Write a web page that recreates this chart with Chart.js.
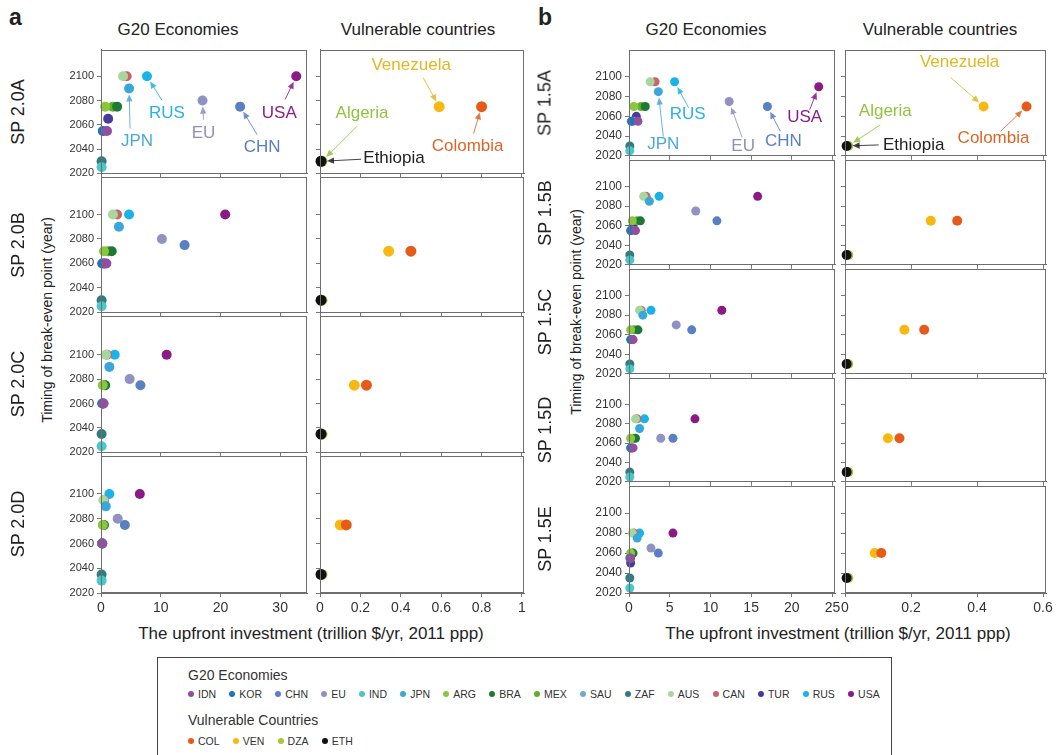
<!DOCTYPE html>
<html>
<head>
<meta charset="utf-8">
<script src="https://cdn.jsdelivr.net/npm/chart.js@4.4.1/dist/chart.umd.min.js"></script>
<style>
  html, body { margin: 0; padding: 0; background: #fff; }
  body { position: relative; width: 1056px; height: 755px; overflow: hidden;
         font-family: "Liberation Sans", Arial, sans-serif; color: #222; }
  canvas.cell { position: absolute; }
  .txt { position: absolute; white-space: nowrap; }
  .rot { transform: translate(-50%, -50%) rotate(-90deg); }
  .ctr { transform: translate(-50%, -50%); }
  #legend { position: absolute; left: 157px; top: 657px; width: 735px; height: 110px;
            border: 1px solid #444; box-sizing: border-box; }
  .lg-title { position: absolute; left: 30px; font-size: 14px; color: #333; }
  .lg-row { position: absolute; left: 30px; display: flex; gap: 13.2px; font-size: 10.5px; color: #333; }
  .lg-item { display: flex; align-items: center; gap: 4px; }
  .lg-dot { width: 6px; height: 6px; border-radius: 50%; display: inline-block; }
</style>
</head>
<body>

<div class="txt" style="left:9px;top:4px;font-size:23px;font-weight:bold;">a</div>
<div class="txt" style="left:538px;top:4px;font-size:23px;font-weight:bold;">b</div>

<div class="txt ctr" style="left:178px;top:30px;font-size:17px;">G20 Economies</div>
<div class="txt ctr" style="left:418px;top:30px;font-size:17px;">Vulnerable countries</div>
<div class="txt ctr" style="left:706px;top:30px;font-size:17px;">G20 Economies</div>
<div class="txt ctr" style="left:940px;top:30px;font-size:17px;">Vulnerable countries</div>

<div class="txt rot" style="left:47px;top:320px;font-size:14px;">Timing of break-even point (year)</div>
<div class="txt rot" style="left:576px;top:312px;font-size:14px;">Timing of break-even point (year)</div>

<div class="txt ctr" style="left:311px;top:634px;font-size:17px;">The upfront investment (trillion $/yr, 2011 ppp)</div>
<div class="txt ctr" style="left:838px;top:634px;font-size:17px;">The upfront investment (trillion $/yr, 2011 ppp)</div>

<div id="legend">
  <div class="lg-title" style="top:9px;">G20 Economies</div>
  <div class="lg-row" id="lgG20" style="top:30px;"></div>
  <div class="lg-title" style="top:54px;">Vulnerable Countries</div>
  <div class="lg-row" id="lgVuln" style="top:77px;"></div>
</div>

<script>
// ---------- categories ----------
const g20Codes  = ['IDN','KOR','CHN','EU','IND','JPN','ARG','BRA','MEX','SAU','ZAF','AUS','CAN','TUR','RUS','USA'];
const vulnCodes = ['COL','VEN','DZA','ETH'];
const scenariosA = ['SP 2.0A','SP 2.0B','SP 2.0C','SP 2.0D'];
const scenariosB = ['SP 1.5A','SP 1.5B','SP 1.5C','SP 1.5D','SP 1.5E'];

// ---------- tick labels ----------
const yearTicks    = [2020, 2040, 2060, 2080, 2100];
const g20TicksA    = [0, 10, 20, 30];
const vulnTicksA   = [0, 0.2, 0.4, 0.6, 0.8, 1];
const g20TicksB    = [0, 5, 10, 15, 20, 25];
const vulnTicksB   = [0, 0.2, 0.4, 0.6];

// ---------- G20 upfront investment (trillion $/yr) and break-even year, order = g20Codes ----------
const inv_20A = [1.0, 0.3, 23.3, 17.0, 0.1, 4.7, 0.7, 2.7, 2.0, 0.5, 0.1, 3.7, 4.3, 1.2, 7.7, 32.7];
const yr_20A  = [2055, 2055, 2075, 2080, 2025, 2090, 2075, 2075, 2075, 2055, 2030, 2100, 2100, 2065, 2100, 2100];
const inv_20B = [0.9, 0.2, 14.0, 10.2, 0.1, 3.0, 0.5, 1.8, 1.2, 0.5, 0.1, 2.0, 2.7, 0.6, 4.7, 20.8];
const yr_20B  = [2060, 2060, 2075, 2080, 2025, 2090, 2070, 2070, 2070, 2060, 2030, 2100, 2100, 2060, 2100, 2100];
const inv_20C = [0.4, 0.2, 6.6, 4.8, 0.1, 1.4, 0.3, 0.7, 0.6, 0.3, 0.1, 0.8, 1.0, 0.4, 2.3, 11.0];
const yr_20C  = [2060, 2060, 2075, 2080, 2025, 2090, 2075, 2075, 2075, 2060, 2035, 2100, 2100, 2060, 2100, 2100];
const inv_20D = [0.2, 0.2, 4.0, 2.8, 0.1, 0.8, 0.3, 0.5, 0.4, 0.2, 0.1, 0.4, 0.5, 0.2, 1.4, 6.5];
const yr_20D  = [2060, 2060, 2075, 2080, 2030, 2090, 2075, 2075, 2075, 2060, 2035, 2095, 2095, 2060, 2100, 2100];

const inv_15A = [1.1, 0.3, 17.0, 12.3, 0.1, 3.6, 0.6, 2.0, 1.5, 0.5, 0.1, 2.6, 3.2, 0.9, 5.6, 23.3];
const yr_15A  = [2055, 2055, 2070, 2075, 2025, 2085, 2070, 2070, 2070, 2055, 2030, 2095, 2095, 2060, 2095, 2090];
const inv_15B = [0.8, 0.2, 10.8, 8.2, 0.1, 2.5, 0.4, 1.4, 1.0, 0.4, 0.1, 1.8, 2.1, 0.5, 3.7, 15.8];
const yr_15B  = [2055, 2055, 2065, 2075, 2025, 2085, 2065, 2065, 2065, 2055, 2030, 2090, 2090, 2060, 2090, 2090];
const inv_15C = [0.5, 0.2, 7.7, 5.8, 0.1, 1.7, 0.2, 1.1, 0.6, 0.3, 0.1, 1.3, 1.5, 0.4, 2.7, 11.4];
const yr_15C  = [2055, 2055, 2065, 2070, 2025, 2080, 2065, 2065, 2065, 2055, 2030, 2085, 2085, 2055, 2085, 2085];
const inv_15D = [0.5, 0.2, 5.4, 3.9, 0.1, 1.3, 0.2, 0.8, 0.5, 0.3, 0.1, 0.8, 1.0, 0.3, 1.9, 8.1];
const yr_15D  = [2055, 2055, 2065, 2065, 2025, 2075, 2065, 2065, 2065, 2055, 2030, 2085, 2085, 2055, 2085, 2085];
const inv_15E = [0.2, 0.1, 3.6, 2.7, 0.1, 1.0, 0.2, 0.5, 0.4, 0.2, 0.1, 0.4, 0.6, 0.2, 1.3, 5.4];
const yr_15E  = [2055, 2055, 2060, 2065, 2025, 2075, 2060, 2060, 2060, 2055, 2035, 2080, 2080, 2050, 2080, 2080];

// ---------- vulnerable countries, order = vulnCodes ----------
const vinv_20A = [0.80, 0.59, 0.01, 0.005];  const vyr_20A = [2075, 2075, 2030, 2030];
const vinv_20B = [0.45, 0.34, 0.01, 0.005];  const vyr_20B = [2070, 2070, 2030, 2030];
const vinv_20C = [0.23, 0.17, 0.01, 0.005];  const vyr_20C = [2075, 2075, 2035, 2035];
const vinv_20D = [0.13, 0.10, 0.01, 0.005];  const vyr_20D = [2075, 2075, 2035, 2035];
const vinv_15A = [0.55, 0.42, 0.01, 0.005];  const vyr_15A = [2070, 2070, 2030, 2030];
const vinv_15B = [0.34, 0.26, 0.01, 0.005];  const vyr_15B = [2065, 2065, 2030, 2030];
const vinv_15C = [0.24, 0.18, 0.01, 0.005];  const vyr_15C = [2065, 2065, 2030, 2030];
const vinv_15D = [0.165, 0.13, 0.01, 0.005]; const vyr_15D = [2065, 2065, 2030, 2030];
const vinv_15E = [0.11, 0.09, 0.01, 0.005];  const vyr_15E = [2060, 2060, 2035, 2035];

// ---------- styling ----------
const g20Colors = {
  IDN:'#934f9e', KOR:'#1f74c2', CHN:'#5a7fc2', EU:'#9192c4', IND:'#4bc6ca', JPN:'#3aa7da',
  ARG:'#8cc63e', BRA:'#1b7a36', MEX:'#5fae2e', SAU:'#72a7cd', ZAF:'#2f7d80', AUS:'#a8d79d',
  CAN:'#c9636f', TUR:'#4a3a9b', RUS:'#19b3ea', USA:'#8a1a85'
};
const vulnColors = { COL:'#e65b1a', VEN:'#f7b911', DZA:'#a3c93a', ETH:'#111111' };
// vulnerable series drawn top-most first
const vulnDrawOrder = ['ETH','COL','VEN','DZA'];

// ---------- label + arrow callouts (pixel offsets from the marked point) ----------
const notesA_g20 = [
  {code:'RUS', text:'RUS', color:'#2ab2e2', lx:20,  ly:37, ax:15,  ay:24},
  {code:'JPN', text:'JPN', color:'#4ba8d8', lx:8,   ly:53, ax:1,   ay:40},
  {code:'EU',  text:'EU',  color:'#8e90be', lx:1,   ly:33, ax:1,   ay:19},
  {code:'CHN', text:'CHN', color:'#5a7fc0', lx:22,  ly:41, ax:17,  ay:28},
  {code:'USA', text:'USA', color:'#8b1d8a', lx:-17, ly:37, ax:-11, ay:23}
];
const notesA_vuln = [
  {code:'VEN', text:'Venezuela', color:'#e2b820', lx:-28, ly:-41, ax:-16, ay:-29},
  {code:'COL', text:'Colombia',  color:'#de6526', lx:-14, ly:40,  ax:-8,  ay:27},
  {code:'DZA', text:'Algeria',   color:'#8fc43f', lx:40,  ly:-48, ax:35,  ay:-35},
  {code:'ETH', text:'Ethiopia',  color:'#222222', lx:73,  ly:-3,  ax:40,  ay:-2}
];
const notesB_g20 = [
  {code:'RUS', text:'RUS', color:'#2ab2e2', lx:13,  ly:33, ax:14, ay:26},
  {code:'JPN', text:'JPN', color:'#4ba8d8', lx:5,   ly:53, ax:5,  ay:45},
  {code:'EU',  text:'EU',  color:'#8e90be', lx:14,  ly:45, ax:13, ay:36},
  {code:'CHN', text:'CHN', color:'#5a7fc0', lx:16,  ly:35, ax:13, ay:25},
  {code:'USA', text:'USA', color:'#8b1d8a', lx:-14, ly:31, ax:-9, ay:23}
];
const notesB_vuln = [
  {code:'VEN', text:'Venezuela', color:'#e2b820', lx:-24, ly:-44, ax:-33, ay:-29},
  {code:'COL', text:'Colombia',  color:'#de6526', lx:-33, ly:32,  ax:-26, ay:25},
  {code:'DZA', text:'Algeria',   color:'#8fc43f', lx:37,  ly:-35, ax:32,  ay:-21},
  {code:'ETH', text:'Ethiopia',  color:'#222222', lx:67,  ly:-1,  ax:32,  ay:-1}
];

// ---------- panel layout ----------
const panelA = {
  g20:  {left:101, right:307, xMax:34.5, ticks:g20TicksA,  r:5},
  vuln: {left:320, right:524, xMax:1.01, ticks:vulnTicksA, r:5.5},
  rows: [48, 175, 314, 454, 593], yMax: [2122, 2131, 2132, 2131], yFont: 11,
  labelX: 18, names: scenariosA,
  g20Data:  [[inv_20A, yr_20A], [inv_20B, yr_20B], [inv_20C, yr_20C], [inv_20D, yr_20D]],
  vulnData: [[vinv_20A, vyr_20A], [vinv_20B, vyr_20B], [vinv_20C, vyr_20C], [vinv_20D, vyr_20D]],
  notesG20: notesA_g20, notesVuln: notesA_vuln
};
const panelB = {
  g20:  {left:629, right:835, xMax:25.3,  ticks:g20TicksB,  r:4.5},
  vuln: {left:845, right:1046, xMax:0.609, ticks:vulnTicksB, r:5},
  rows: [48, 158, 267, 376, 484, 593], yMax: [2127, 2127, 2127, 2127, 2127], yFont: 12,
  labelX: 545, names: scenariosB,
  g20Data:  [[inv_15A, yr_15A], [inv_15B, yr_15B], [inv_15C, yr_15C], [inv_15D, yr_15D], [inv_15E, yr_15E]],
  vulnData: [[vinv_15A, vyr_15A], [vinv_15B, vyr_15B], [vinv_15C, vyr_15C], [vinv_15D, vyr_15D], [vinv_15E, vyr_15E]],
  notesG20: notesB_g20, notesVuln: notesB_vuln
};

// frame around each plotting cell
const framePlugin = {
  id: 'frame',
  afterDraw(chart) {
    const a = chart.chartArea, ctx = chart.ctx;
    ctx.save();
    ctx.strokeStyle = '#6e6e6e';
    ctx.lineWidth = 1;
    ctx.strokeRect(Math.round(a.left) + 0.5, Math.round(a.top) + 0.5,
                   Math.round(a.right - a.left) - 1, Math.round(a.bottom - a.top) - 1);
    ctx.restore();
  }
};

// callout text with an arrow to its point
const notePlugin = {
  id: 'notes',
  afterDatasetsDraw(chart, args, opts) {
    const notes = opts.items || [];
    const ctx = chart.ctx;
    notes.forEach(n => {
      const idx = chart.data.datasets.findIndex(d => d.label === n.code);
      if (idx < 0) return;
      const pt = chart.getDatasetMeta(idx).data[0];
      const px = pt.x, py = pt.y;
      const sx = px + n.ax, sy = py + n.ay;
      const dx = px - sx, dy = py - sy, len = Math.hypot(dx, dy);
      const ux = dx / len, uy = dy / len;
      const ex = px - ux * 6, ey = py - uy * 6;
      ctx.save();
      ctx.strokeStyle = n.color; ctx.fillStyle = n.color;
      ctx.globalAlpha = 0.85;
      ctx.lineWidth = 1;
      ctx.beginPath(); ctx.moveTo(sx, sy); ctx.lineTo(ex - ux * 4, ey - uy * 4); ctx.stroke();
      const hl = 7, hw = 3.2;
      ctx.beginPath();
      ctx.moveTo(ex, ey);
      ctx.lineTo(ex - ux * hl - uy * hw, ey - uy * hl + ux * hw);
      ctx.lineTo(ex - ux * hl + uy * hw, ey - uy * hl - ux * hw);
      ctx.closePath(); ctx.fill();
      ctx.globalAlpha = 1;
      ctx.font = '17px "Liberation Sans", Arial, sans-serif';
      ctx.textAlign = 'center'; ctx.textBaseline = 'middle';
      ctx.fillText(n.text, px + n.lx, py + n.ly);
      ctx.restore();
    });
  }
};

function makeCell(spec) {
  const padL = 46, padR = 12, padT = 8, padB = spec.showX ? 30 : 8;
  const w = spec.right - spec.left, h = spec.bottom - spec.top;
  const cv = document.createElement('canvas');
  cv.className = 'cell';
  cv.width = w + padL + padR;
  cv.height = h + padT + padB;
  cv.style.left = (spec.left - padL) + 'px';
  cv.style.top = (spec.top - padT) + 'px';
  cv.style.width = cv.width + 'px';
  cv.style.height = cv.height + 'px';
  document.body.appendChild(cv);

  const gridStyle = { drawOnChartArea: false, drawTicks: true, tickLength: 4, color: '#777' };
  new Chart(cv, {
    type: 'scatter',
    data: { datasets: spec.datasets },
    options: {
      responsive: false, animation: false, devicePixelRatio: 1,
      layout: { padding: { left: 0, right: padR, top: padT, bottom: 0 } },
      plugins: { legend: { display: false }, tooltip: { enabled: false }, notes: { items: spec.notes } },
      scales: {
        x: {
          type: 'linear', min: 0, max: spec.xMax,
          afterBuildTicks: s => { s.ticks = spec.xTicks.map(v => ({ value: v })); },
          afterFit: s => { s.height = padB; },
          ticks: { display: spec.showX, callback: v => String(v),
                   font: { size: 14, family: '"Liberation Sans", Arial, sans-serif' },
                   color: '#333', padding: 3, maxRotation: 0 },
          grid: gridStyle, border: { color: '#6e6e6e' }
        },
        y: {
          type: 'linear', min: 2020, max: spec.yMax,
          afterBuildTicks: s => { s.ticks = yearTicks.map(v => ({ value: v })); },
          afterFit: s => { s.width = padL; },
          ticks: { callback: v => spec.showY ? String(v) : '',
                   font: { size: spec.yFont, family: '"Liberation Sans", Arial, sans-serif' },
                   color: '#333', padding: 3 },
          grid: gridStyle, border: { color: '#6e6e6e' }
        }
      }
    },
    plugins: [framePlugin, notePlugin]
  });
}

function g20Sets(inv, yr, r) {
  return g20Codes.map((c, i) => ({
    label: c, data: [{ x: inv[i], y: yr[i] }],
    backgroundColor: g20Colors[c], borderColor: g20Colors[c], borderWidth: 0,
    pointRadius: r, clip: false
  }));
}
function vulnSets(inv, yr, r) {
  return vulnDrawOrder.map(c => {
    const i = vulnCodes.indexOf(c);
    return {
      label: c, data: [{ x: inv[i], y: yr[i] }],
      backgroundColor: vulnColors[c], borderColor: vulnColors[c], borderWidth: 0,
      pointRadius: r, clip: false
    };
  });
}

function buildPanel(p) {
  const n = p.names.length;
  for (let k = 0; k < n; k++) {
    const top = p.rows[k], bottom = p.rows[k + 1];
    const last = k === n - 1;
    makeCell({
      left: p.g20.left, right: p.g20.right, top, bottom,
      xMax: p.g20.xMax, xTicks: p.g20.ticks, yMax: p.yMax[k], yFont: p.yFont,
      showX: last, showY: true,
      datasets: g20Sets(p.g20Data[k][0], p.g20Data[k][1], p.g20.r),
      notes: k === 0 ? p.notesG20 : []
    });
    makeCell({
      left: p.vuln.left, right: p.vuln.right, top, bottom,
      xMax: p.vuln.xMax, xTicks: p.vuln.ticks, yMax: p.yMax[k], yFont: p.yFont,
      showX: last, showY: false,
      datasets: vulnSets(p.vulnData[k][0], p.vulnData[k][1], p.vuln.r),
      notes: k === 0 ? p.notesVuln : []
    });
    const lab = document.createElement('div');
    lab.className = 'txt rot';
    lab.style.left = p.labelX + 'px';
    lab.style.top = ((top + bottom) / 2) + 'px';
    lab.style.fontSize = '18px';
    lab.textContent = p.names[k];
    document.body.appendChild(lab);
  }
}

buildPanel(panelA);
buildPanel(panelB);

// legend entries
function fillLegend(id, codes, colors) {
  const row = document.getElementById(id);
  codes.forEach(c => {
    const it = document.createElement('span');
    it.className = 'lg-item';
    const d = document.createElement('span');
    d.className = 'lg-dot';
    d.style.background = colors[c];
    const t = document.createElement('span');
    t.textContent = c;
    it.appendChild(d); it.appendChild(t);
    row.appendChild(it);
  });
}
fillLegend('lgG20', g20Codes, g20Colors);
fillLegend('lgVuln', vulnCodes, vulnColors);
</script>
</body>
</html>
